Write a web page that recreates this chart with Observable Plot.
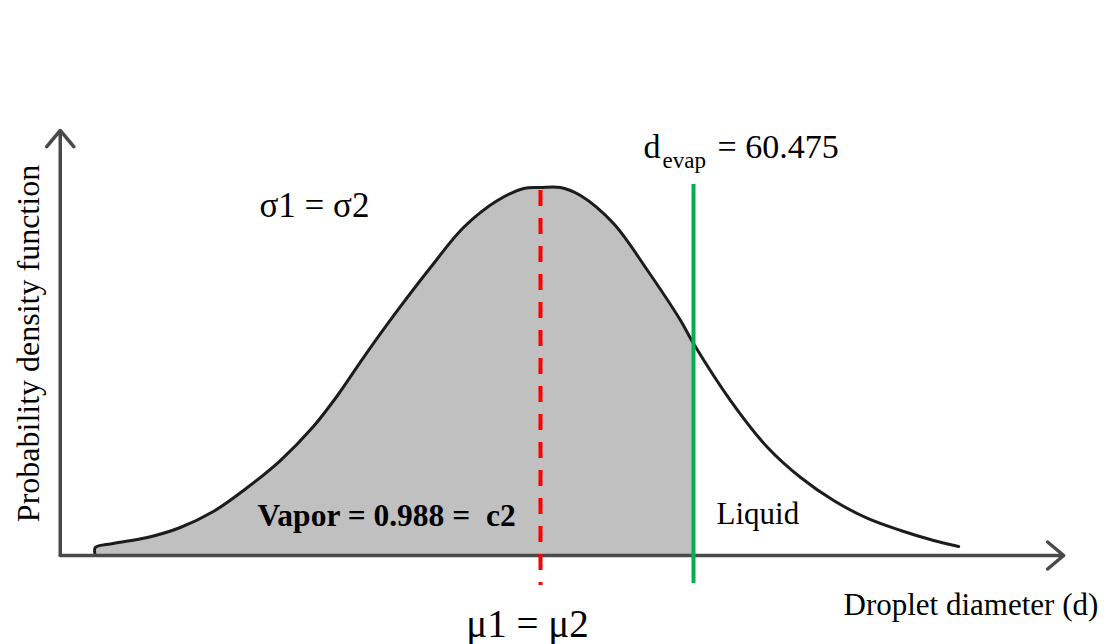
<!DOCTYPE html>
<html>
<head>
<meta charset="utf-8">
<script src="https://cdn.jsdelivr.net/npm/d3@7"></script>
<script src="https://cdn.jsdelivr.net/npm/@observablehq/plot@0.6"></script>
<style>
  body { margin: 0; background: #fff; }
</style>
</head>
<body>
<div id="chart"></div>
<script>
// Droplet size distribution: diameter (d) against probability density.
const diameter = [19.52, 19.52, 20.75, 23.08, 25.34, 27.60, 29.93, 32.19, 34.45, 36.10, 37.88,
  40.21, 42.47, 44.73, 47.05, 48.84, 50.00, 51.37, 52.74, 55.00, 57.33, 59.59, 60.475,
  63.01, 65.55, 67.81, 70.07, 72.40, 74.66, 76.92, 78.63];
const density = [0, 0.00088, 0.00132, 0.00197, 0.00307, 0.00482, 0.00745, 0.01041, 0.01414, 0.01754, 0.02170,
  0.02686, 0.03157, 0.03595, 0.03891, 0.04023, 0.04034, 0.04034, 0.03946, 0.03639, 0.03124, 0.02576, 0.02324,
  0.01699, 0.01184, 0.00855, 0.00603, 0.00406, 0.00274, 0.00164, 0.00099];

const mu = 50;            // common mean of both distributions
const dEvap = 60.475;     // evaporation diameter threshold
const vaporShare = 0.988; // share of droplets below d_evap

// Extent of the two hand-drawn axes (diameter range, density top)
const axisDiameter = [17.12, 85.82];
const axisDensityTop = 0.04659;

const curve = diameter.map((d, i) => ({d, p: density[i]}));
const vaporPart = curve.filter(c => c.d <= dEvap);
const peak = d3.max(density);

const serif = "'Liberation Serif', 'Times New Roman', serif";
const axisColor = "#4a4a4a";

const chart = Plot.plot({
  width: 1111,
  height: 644,
  margin: 0,
  x: {domain: [mu, dEvap], range: [540, 693], axis: null},
  y: {domain: [0, peak], range: [555, 187], axis: null},
  style: {fontFamily: serif, background: "#fff", color: "#000"},
  marks: [
    // shaded vapor region under the curve
    Plot.areaY(vaporPart, {x: "d", y: "p", fill: "#c0c0c0", curve: "catmull-rom"}),
    // density curve
    Plot.line(curve, {x: "d", y: "p", stroke: "#1c1c1c", strokeWidth: 3, curve: "catmull-rom"}),
    // axes with open arrowheads
    Plot.arrow([0], {x1: axisDiameter[0], x2: axisDiameter[0], y1: 0, y2: axisDensityTop,
      stroke: axisColor, strokeWidth: 3.5, headLength: 9, headAngle: 80}),
    Plot.arrow([0], {x1: axisDiameter[0], x2: axisDiameter[1], y1: 0, y2: 0,
      stroke: axisColor, strokeWidth: 3.5, headLength: 9, headAngle: 80}),
    // mean (red dashed) and evaporation threshold (green)
    Plot.ruleX([mu], {y1: peak, y2: 0, insetTop: 3, insetBottom: -30,
      stroke: "#ff0000", strokeWidth: 4, strokeDasharray: "16,12"}),
    Plot.ruleX([dEvap], {y1: peak, y2: 0, insetTop: -3, insetBottom: -28,
      stroke: "#00b050", strokeWidth: 4}),
    // labels
    Plot.text(["Probability density function"], {text: d => d, frameAnchor: "top-left",
      dx: 38, dy: 343, rotate: -90, lineAnchor: "bottom", textAnchor: "middle", fontSize: 32, fill: "#000"}),
    Plot.text(["σ1 = σ2"], {text: d => d, frameAnchor: "top-left", dx: 259, dy: 216,
      lineAnchor: "bottom", textAnchor: "start", fontSize: 35, fill: "#000"}),
    Plot.text([dEvap], {x: d => d, y: 0, text: () => "d", dx: -50, dy: 157 - 555,
      lineAnchor: "bottom", textAnchor: "start", fontSize: 34, fill: "#000"}),
    Plot.text([dEvap], {x: d => d, y: 0, text: () => "evap", dx: -31, dy: 167 - 555,
      lineAnchor: "bottom", textAnchor: "start", fontSize: 23, fill: "#000"}),
    Plot.text([dEvap], {x: d => d, y: 0, text: d => `= ${d}`, dx: 24, dy: 157 - 555,
      lineAnchor: "bottom", textAnchor: "start", fontSize: 34, fill: "#000"}),
    Plot.text([vaporShare], {frameAnchor: "top-left", dx: 257, dy: 525, text: d => `Vapor = ${d} =\u00a0\u00a0c2`,
      lineAnchor: "bottom", textAnchor: "start", fontSize: 31.5, fontWeight: "bold", fill: "#000"}),
    Plot.text(["Liquid"], {text: d => d, frameAnchor: "top-left", dx: 716, dy: 523,
      lineAnchor: "bottom", textAnchor: "start", fontSize: 31, fill: "#000"}),
    Plot.text(["Droplet diameter (d)"], {text: d => d, frameAnchor: "top-left", dx: 843, dy: 614,
      lineAnchor: "bottom", textAnchor: "start", fontSize: 31, fill: "#000"}),
    Plot.text([mu], {x: d => d, y: 0, text: () => "μ1 = μ2", dx: -13, dy: 636 - 555,
      lineAnchor: "bottom", textAnchor: "middle", fontSize: 39, fill: "#000"})
  ]
});

document.getElementById("chart").append(chart);
</script>
</body>
</html>
